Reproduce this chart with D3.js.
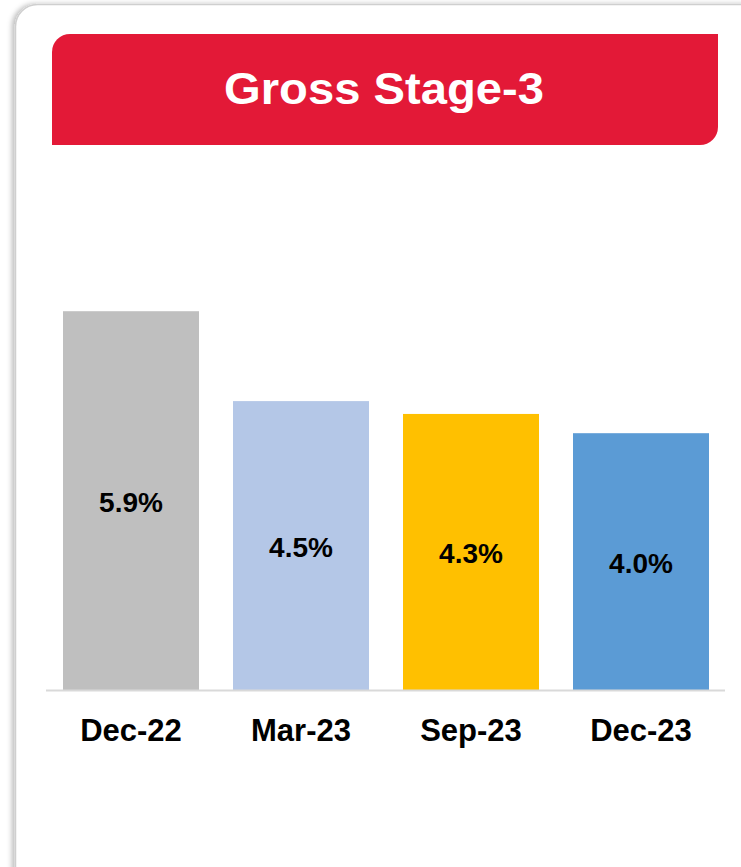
<!DOCTYPE html>
<html>
<head>
<meta charset="utf-8">
<script src="https://cdnjs.cloudflare.com/ajax/libs/d3/7.8.5/d3.min.js"></script>
<style>
  html, body { margin: 0; padding: 0; background: #fff; }
  svg { display: block; font-family: "Liberation Sans", Arial, sans-serif; }
</style>
</head>
<body>
<svg id="chart" width="741" height="867"></svg>
<script>
var title = "Gross Stage-3";
var categories = ["Dec-22", "Mar-23", "Sep-23", "Dec-23"];
var values = [5.9, 4.5, 4.3, 4.0];
var colors = ["#bfbfbf", "#b4c7e7", "#ffc000", "#5b9bd5"];

var svg = d3.select("#chart");

// card shadow + border
var defs = svg.append("defs");
var f = defs.append("filter").attr("id", "shadow")
  .attr("x", "-5%").attr("y", "-5%").attr("width", "110%").attr("height", "110%");
f.append("feDropShadow").attr("dx", -3).attr("dy", 0).attr("stdDeviation", 2.5)
  .attr("flood-color", "#000").attr("flood-opacity", 0.25);

svg.append("rect")
  .attr("x", 15.5).attr("y", 4.5).attr("width", 800).attr("height", 950)
  .attr("rx", 22).attr("fill", "#fff").attr("stroke", "#cfcfcf").attr("stroke-width", 1.5)
  .attr("filter", "url(#shadow)");

// header band: rounded top-left and bottom-right
var hx0 = 52, hx1 = 718, hy0 = 34, hy1 = 145, r = 18;
var hp = d3.path();
hp.moveTo(hx0, hy0 + r);
hp.arcTo(hx0, hy0, hx0 + r, hy0, r);
hp.lineTo(hx1, hy0);
hp.lineTo(hx1, hy1 - r);
hp.arcTo(hx1, hy1, hx1 - r, hy1, r);
hp.lineTo(hx0, hy1);
hp.closePath();
svg.append("path").attr("d", hp.toString()).attr("fill", "#e31937");

svg.append("text")
  .attr("x", 224).attr("y", 104)
  .attr("fill", "#fff")
  .attr("font-size", 44).attr("font-weight", "bold")
  .attr("textLength", 320).attr("lengthAdjust", "spacingAndGlyphs")
  .text(title);

// scales
var x = d3.scaleBand().domain(categories).range([46, 726])
  .paddingInner(0.2).paddingOuter(0.1);
var y = d3.scaleLinear().domain([0, 6]).range([690, 304.8]);

svg.selectAll("rect.bar").data(values).enter().append("rect")
  .attr("class", "bar")
  .attr("x", function (d, i) { return x(categories[i]); })
  .attr("y", function (d) { return y(d); })
  .attr("width", x.bandwidth())
  .attr("height", function (d) { return y(0) - y(d); })
  .attr("fill", function (d, i) { return colors[i]; });

svg.selectAll("text.val").data(values).enter().append("text")
  .attr("class", "val")
  .attr("x", function (d, i) { return x(categories[i]) + x.bandwidth() / 2; })
  .attr("y", function (d) { return (y(d) + y(0)) / 2 + 11.5; })
  .attr("text-anchor", "middle").attr("font-size", 28).attr("font-weight", "bold")
  .attr("fill", "#000")
  .text(function (d) { return d.toFixed(1) + "%"; });

// baseline
svg.append("line")
  .attr("x1", 46).attr("x2", 725).attr("y1", 690.5).attr("y2", 690.5)
  .attr("stroke", "#d9d9d9").attr("stroke-width", 2);

// category labels
var xAxis = svg.append("g").attr("transform", "translate(0,690)")
  .call(d3.axisBottom(x).tickSize(0).tickPadding(0));
xAxis.select(".domain").remove();
xAxis.selectAll("text")
  .attr("y", 51).attr("dy", null)
  .attr("font-family", "Liberation Sans, Arial, sans-serif")
  .attr("font-size", 31).attr("font-weight", "bold").attr("fill", "#000");
</script>
</body>
</html>
